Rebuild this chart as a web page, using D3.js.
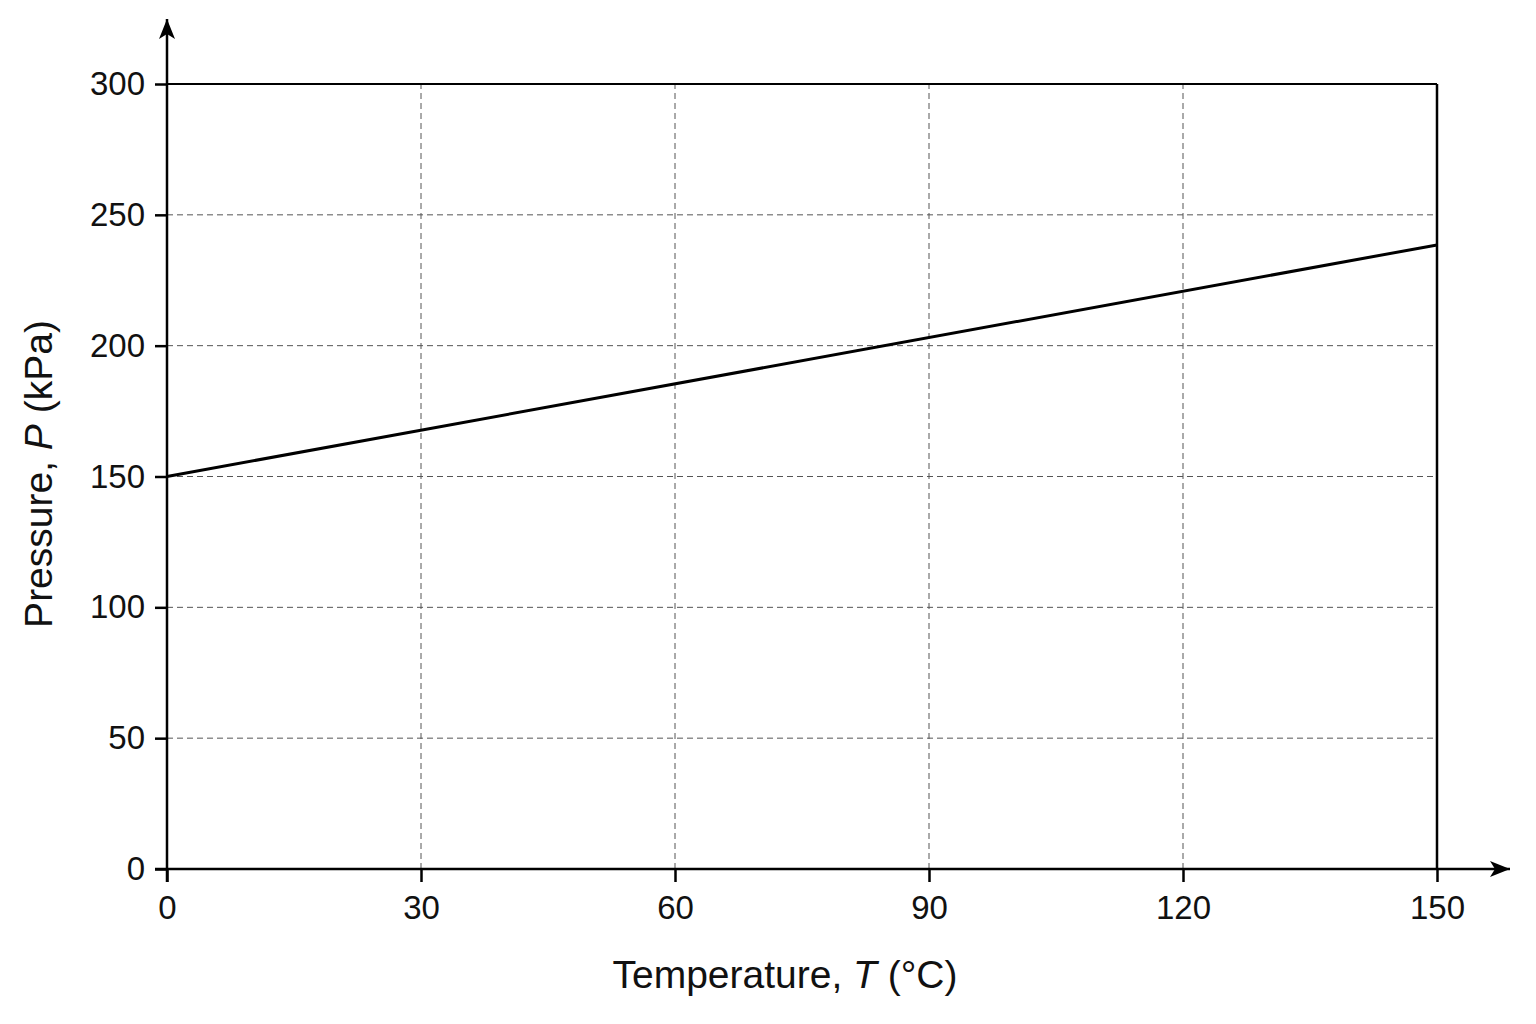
<!DOCTYPE html>
<html>
<head>
<meta charset="utf-8">
<script src="https://cdn.jsdelivr.net/npm/d3@7"></script>
<style>
  body { margin: 0; background: #fff; }
  text { font-family: "Liberation Sans", Arial, sans-serif; fill: #111; }
</style>
</head>
<body>
<div id="chart"></div>
<script>
// data
var temps = [0, 150];
var pressures = [150, 238.5];
var xTicks = [0, 30, 60, 90, 120, 150];
var yTicks = [0, 50, 100, 150, 200, 250, 300];

var width = 1536, height = 1024;
var margin = {top: 84, right: 99, bottom: 155, left: 167};

var svg = d3.select("#chart").append("svg")
  .attr("width", width)
  .attr("height", height);

// arrow head
var defs = svg.append("defs");
defs.append("marker")
  .attr("id", "arrow")
  .attr("viewBox", "0 0 20 16")
  .attr("refX", 20).attr("refY", 8)
  .attr("markerWidth", 20).attr("markerHeight", 16)
  .attr("markerUnits", "userSpaceOnUse")
  .attr("orient", "auto")
  .append("path")
  .attr("d", "M0,0 L20,8 L0,16 L5,8 Z")
  .style("fill", "#000");

var x = d3.scaleLinear().domain([0, 150]).range([margin.left, width - margin.right]);
var y = d3.scaleLinear().domain([0, 300]).range([height - margin.bottom, margin.top]);

// grid
svg.append("g").selectAll("line.gx")
  .data(xTicks.slice(1, -1))
  .enter().append("line")
  .attr("x1", d => x(d)).attr("x2", d => x(d))
  .attr("y1", y(0)).attr("y2", y(300))
  .style("stroke", "#555").style("stroke-width", 1)
  .style("stroke-dasharray", "6 4");

svg.append("g").selectAll("line.gy")
  .data(yTicks.slice(1, -1))
  .enter().append("line")
  .attr("x1", x(0)).attr("x2", x(150))
  .attr("y1", d => y(d)).attr("y2", d => y(d))
  .style("stroke", "#555").style("stroke-width", 1)
  .style("stroke-dasharray", "6 4");

// frame top & right
svg.append("line")
  .attr("x1", x(0)).attr("x2", x(150))
  .attr("y1", y(300)).attr("y2", y(300))
  .style("stroke", "#000").style("stroke-width", 2);
svg.append("line")
  .attr("x1", x(150)).attr("x2", x(150))
  .attr("y1", y(300)).attr("y2", y(0))
  .style("stroke", "#000").style("stroke-width", 2.5);

// axes
var xAxis = d3.axisBottom(x).tickValues(xTicks).tickSize(13).tickPadding(14);
var yAxis = d3.axisLeft(y).tickValues(yTicks).tickSize(12).tickPadding(10);

var gx = svg.append("g")
  .attr("transform", "translate(0," + y(0) + ")")
  .call(xAxis);
gx.select(".domain").remove();
gx.selectAll("line").style("stroke", "#000").style("stroke-width", 2.5);
gx.selectAll("text")
  .style("font-size", "33px")
  .style("font-family", "Liberation Sans, Arial, sans-serif")
  .attr("fill", "#111");

var gy = svg.append("g")
  .attr("transform", "translate(" + x(0) + ",0)")
  .call(yAxis);
gy.select(".domain").remove();
gy.selectAll("line").style("stroke", "#000").style("stroke-width", 2.5);
gy.selectAll("text")
  .style("font-size", "33px")
  .style("font-family", "Liberation Sans, Arial, sans-serif")
  .attr("fill", "#111");

// axis lines with arrows
svg.append("line")
  .attr("x1", x(0) - 12).attr("x2", 1510)
  .attr("y1", y(0)).attr("y2", y(0))
  .style("stroke", "#000").style("stroke-width", 2.5)
  .attr("marker-end", "url(#arrow)");
svg.append("line")
  .attr("x1", x(0)).attr("x2", x(0))
  .attr("y1", y(0) + 13).attr("y2", 19)
  .style("stroke", "#000").style("stroke-width", 2.5)
  .attr("marker-end", "url(#arrow)");

// data line
var line = d3.line()
  .x(d => x(d[0]))
  .y(d => y(d[1]));

svg.append("path")
  .datum(d3.zip(temps, pressures))
  .attr("d", line)
  .style("fill", "none")
  .style("stroke", "#000")
  .style("stroke-width", 3);

// titles
var xt = svg.append("text")
  .attr("x", 785).attr("y", 988)
  .attr("text-anchor", "middle")
  .style("font-size", "39px");
xt.append("tspan").text("Temperature, ");
xt.append("tspan").style("font-style", "italic").text("T");
xt.append("tspan").text(" (°C)");

var yt = svg.append("text")
  .attr("transform", "translate(52,474) rotate(-90)")
  .attr("text-anchor", "middle")
  .style("font-size", "39px");
yt.append("tspan").text("Pressure, ");
yt.append("tspan").style("font-style", "italic").text("P");
yt.append("tspan").text(" (kPa)");
</script>
</body>
</html>
